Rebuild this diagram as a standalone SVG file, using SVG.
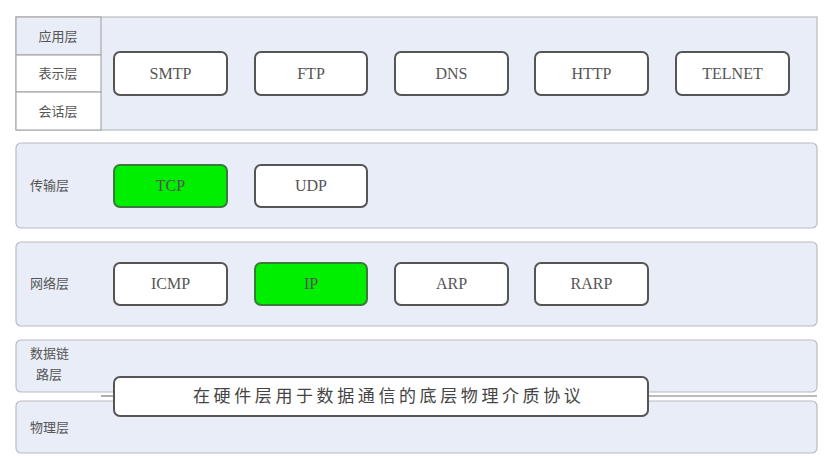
<svg xmlns="http://www.w3.org/2000/svg" width="833" height="462" viewBox="0 0 833 462">
<defs>
<style>
.panel{fill:#e8edf8;stroke:#b9bcc2;stroke-width:1.2}
.cell{fill:#ffffff;stroke:#a8a8a8;stroke-width:1.2}
.btn{fill:#ffffff;stroke:#555555;stroke-width:2}
.green{fill:#00ee00;stroke:#3a7a3a;stroke-width:2}
.lbl{font-family:"Liberation Serif","Noto Sans CJK SC",serif;font-size:13px;fill:#555555}
.bt{font-family:"Liberation Serif","Noto Sans CJK SC",serif;font-size:16px;fill:#555555;text-anchor:middle}
.bar{font-family:"Noto Sans CJK SC",sans-serif;font-size:17px;fill:#444444;letter-spacing:3.6px}
.conn{stroke:#777777;stroke-width:1.2;fill:none}
</style>
</defs>
<rect width="833" height="462" fill="#ffffff"/>
<g id="top">
<rect x="16" y="17" width="801" height="113" class="panel"/>
<rect x="16" y="17" width="85" height="38" fill="#e8edf8" stroke="#a8a8a8" stroke-width="1.2"/>
<rect x="16" y="55" width="85" height="37" class="cell"/>
<rect x="16" y="92" width="85" height="38" class="cell"/>
<text x="58" y="41" class="lbl" text-anchor="middle">应用层</text>
<text x="58" y="78" class="lbl" text-anchor="middle">表示层</text>
<text x="58" y="116" class="lbl" text-anchor="middle">会话层</text>
</g>
<g id="smtp"><rect x="114" y="52" width="113" height="43" rx="6" class="btn"/><text x="170.5" y="79" class="bt">SMTP</text></g>
<g id="ftp"><rect x="255" y="52" width="112" height="43" rx="6" class="btn"/><text x="311" y="79" class="bt">FTP</text></g>
<g id="dns"><rect x="395" y="52" width="113" height="43" rx="6" class="btn"/><text x="451.5" y="79" class="bt">DNS</text></g>
<g id="http"><rect x="535" y="52" width="113" height="43" rx="6" class="btn"/><text x="591.5" y="79" class="bt">HTTP</text></g>
<g id="telnet"><rect x="676" y="52" width="113" height="43" rx="6" class="btn"/><text x="732.5" y="79" class="bt">TELNET</text></g>

<g id="transport">
<rect x="16" y="143" width="801" height="85" rx="5" class="panel"/>
<text x="30" y="190" class="lbl">传输层</text>
</g>
<g id="tcp"><rect x="114" y="165" width="113" height="42" rx="6" class="green"/><text x="170.5" y="191" class="bt">TCP</text></g>
<g id="udp"><rect x="255" y="165" width="112" height="42" rx="6" class="btn"/><text x="311" y="191" class="bt">UDP</text></g>

<g id="network">
<rect x="16" y="242" width="801" height="84" rx="5" class="panel"/>
<text x="30" y="288" class="lbl">网络层</text>
</g>
<g id="icmp"><rect x="114" y="263" width="113" height="42" rx="6" class="btn"/><text x="170.5" y="289" class="bt">ICMP</text></g>
<g id="ip"><rect x="255" y="263" width="112" height="42" rx="6" class="green"/><text x="311" y="289" class="bt">IP</text></g>
<g id="arp"><rect x="395" y="263" width="113" height="42" rx="6" class="btn"/><text x="451.5" y="289" class="bt">ARP</text></g>
<g id="rarp"><rect x="535" y="263" width="113" height="42" rx="6" class="btn"/><text x="591.5" y="289" class="bt">RARP</text></g>

<g id="datalink">
<rect x="16" y="340" width="801" height="52" rx="5" class="panel"/>
<text x="30" y="358" class="lbl">数据链</text>
<text x="36" y="379" class="lbl">路层</text>
</g>
<g id="physical">
<rect x="16" y="401" width="801" height="52" rx="5" class="panel"/>
<text x="30" y="432" class="lbl">物理层</text>
</g>
<g id="connectors">
<line x1="101" y1="396" x2="114" y2="396" class="conn"/>
<line x1="648" y1="396" x2="817" y2="396" class="conn"/>
</g>
<g id="hw">
<rect x="114" y="377" width="534" height="39" rx="6" class="btn"/>
<text x="193" y="402" class="bar">在硬件层用于数据通信的底层物理介质协议</text>
</g>
</svg>
